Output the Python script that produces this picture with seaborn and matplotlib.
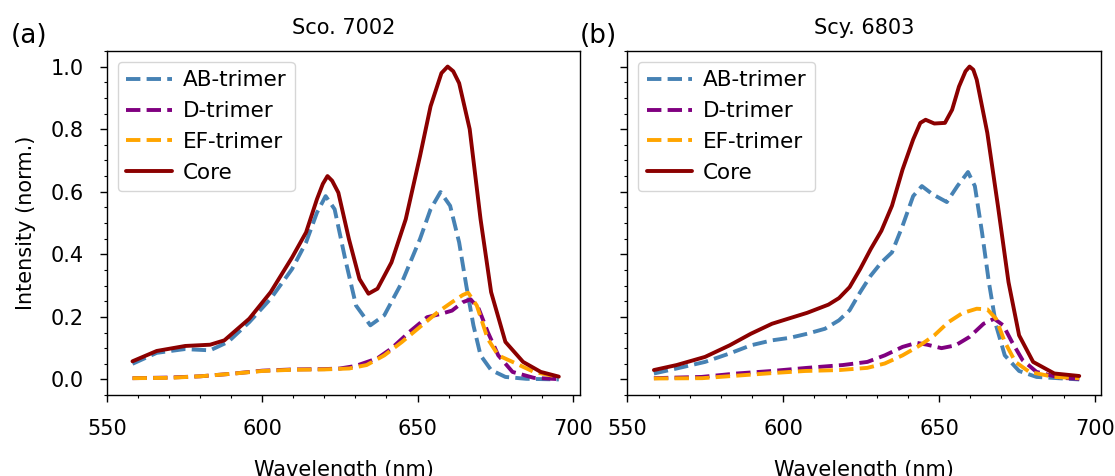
import matplotlib
matplotlib.use("Agg")
import matplotlib.pyplot as plt
import seaborn as sns
from matplotlib.ticker import AutoMinorLocator

# ---- Sco. 7002 (panel a) ----
sco_core_nm = [558.2, 566, 575.2, 583.2, 587.8, 595.8, 602.7, 609.6, 614.1, 617.6, 619.5, 621, 622.5,
               624.5, 627.9, 631.3, 634.2, 637.1, 641.6, 646.2, 650.8, 654.2, 657.7, 659.7, 661.5,
               663.4, 666.8, 670.3, 673.7, 678.3, 684, 689.7, 695.5]
sco_core = [0.058, 0.091, 0.107, 0.111, 0.125, 0.194, 0.279, 0.39, 0.47, 0.576, 0.625, 0.65, 0.635,
            0.597, 0.449, 0.321, 0.274, 0.29, 0.374, 0.512, 0.714, 0.873, 0.979, 1.0, 0.985,
            0.947, 0.8, 0.512, 0.279, 0.12, 0.056, 0.024, 0.009]

sco_ab_nm = [558.2, 566, 575, 583.2, 589, 595.8, 602.7, 609.6, 614.1, 617.6, 620.4, 623.3, 626.7,
             630.2, 634.8, 639.3, 645, 650.8, 654.2, 657.4, 660.5, 663.4, 665.7, 668, 670.3,
             673.7, 678.3, 685, 695.5]
sco_ab = [0.05, 0.085, 0.097, 0.093, 0.12, 0.183, 0.258, 0.353, 0.438, 0.533, 0.586, 0.544, 0.385,
          0.236, 0.173, 0.205, 0.311, 0.449, 0.544, 0.599, 0.555, 0.438, 0.3, 0.173, 0.077,
          0.03, 0.008, 0.002, 0.0]

sco_d_nm = [558.2, 570, 580, 590, 600, 610, 620, 625, 630, 637, 641.6, 647.4, 653.1, 657.7, 661.1,
            664.6, 667.1, 669.7, 672.6, 676, 680.6, 687.5, 695.5]
sco_d = [0.004, 0.006, 0.01, 0.018, 0.028, 0.032, 0.033, 0.035, 0.043, 0.067, 0.099, 0.152, 0.199,
         0.21, 0.22, 0.247, 0.256, 0.226, 0.152, 0.077, 0.024, 0.005, 0.001]

sco_ef_nm = [558.2, 570, 580, 590, 600, 610, 620, 628, 633.6, 639.3, 645, 650.8, 656.5, 661.1, 664.6,
             666.3, 669.1, 672.6, 676, 681.7, 687.5, 695.5]
sco_ef = [0.004, 0.005, 0.01, 0.018, 0.027, 0.031, 0.032, 0.035, 0.046, 0.077, 0.12, 0.168, 0.215,
          0.247, 0.27, 0.277, 0.236, 0.13, 0.077, 0.051, 0.024, 0.008]

# ---- Scy. 6803 (panel b) ----
scy_core_nm = [558.5, 565.8, 574.9, 582.8, 589.6, 596.4, 600.9, 607.7, 614.5, 617.9, 621.3, 624.7,
               628.1, 631.5, 634.9, 638.3, 641.7, 644, 645.7, 648.5, 651.9, 654.2, 656.4, 658.5,
               659.8, 661, 662.1, 665.5, 668.9, 672.3, 675.7, 680.2, 687, 695]
scy_core = [0.03, 0.046, 0.072, 0.109, 0.146, 0.178, 0.192, 0.213, 0.239, 0.26, 0.295, 0.353,
            0.417, 0.475, 0.555, 0.671, 0.767, 0.82, 0.83, 0.818, 0.82, 0.862, 0.936, 0.985,
            1.0, 0.99, 0.958, 0.788, 0.555, 0.311, 0.141, 0.056, 0.019, 0.011]

scy_ab_nm = [558.5, 565.8, 574.9, 582.8, 589.6, 596.4, 602.1, 607.7, 613.4, 617.9, 621.3, 624.7,
             628.1, 631.5, 634.9, 638.3, 641.7, 644.5, 647.9, 652.5, 655.9, 659.3, 661.5, 663.8,
             666, 668.3, 671.1, 675.7, 681.3, 695]
scy_ab = [0.019, 0.035, 0.056, 0.083, 0.109, 0.125, 0.133, 0.146, 0.162, 0.189, 0.221, 0.279,
          0.332, 0.374, 0.406, 0.491, 0.586, 0.618, 0.592, 0.567, 0.618, 0.663, 0.618, 0.47,
          0.311, 0.173, 0.077, 0.027, 0.008, 0.0]

scy_d_nm = [558.5, 573.8, 585.1, 596.4, 607.7, 619.1, 627, 632.6, 638.3, 642.8, 646.2, 650.8, 655.3,
            659.8, 664.3, 667.7, 670.6, 673.4, 676.8, 681.3, 689.2, 695]
scy_d = [0.004, 0.008, 0.019, 0.027, 0.037, 0.046, 0.056, 0.077, 0.104, 0.117, 0.111, 0.1, 0.109,
         0.136, 0.178, 0.194, 0.173, 0.12, 0.062, 0.024, 0.005, 0.002]

scy_ef_nm = [558.5, 574, 585, 596, 607, 618, 627, 632.6, 638.3, 643.9, 648.5, 653, 657.5, 662.1,
             665.5, 668.3, 671.1, 674.5, 679, 687, 695]
scy_ef = [0.003, 0.004, 0.012, 0.02, 0.027, 0.03, 0.037, 0.051, 0.077, 0.109, 0.141, 0.183, 0.212,
          0.226, 0.224, 0.194, 0.12, 0.056, 0.024, 0.008, 0.004]

titles = ["Sco. 7002", "Scy. 6803"]
panel_tags = ["(a)", "(b)"]

sns.set_style("ticks")
plt.rcParams["font.family"] = ["DejaVu Sans"]
plt.rcParams["font.size"] = 15
for key in ["text.color", "axes.labelcolor", "xtick.color", "ytick.color", "axes.edgecolor"]:
    plt.rcParams[key] = "black"

fig, axes = plt.subplots(1, 2, figsize=(11.15, 4.76), dpi=100, sharey=True)
fig.subplots_adjust(left=0.096, right=0.987, top=0.893, bottom=0.17, wspace=0.1)

panels = [
    (sco_ab_nm, sco_ab, sco_d_nm, sco_d, sco_ef_nm, sco_ef, sco_core_nm, sco_core),
    (scy_ab_nm, scy_ab, scy_d_nm, scy_d, scy_ef_nm, scy_ef, scy_core_nm, scy_core),
]

for i, ax in enumerate(axes):
    ab_x, ab_y, d_x, d_y, ef_x, ef_y, c_x, c_y = panels[i]
    sns.lineplot(x=ab_x, y=ab_y, ax=ax, color="steelblue", linestyle="--", lw=2.8, label="AB-trimer", sort=False)
    sns.lineplot(x=d_x, y=d_y, ax=ax, color="purple", linestyle="--", lw=2.8, label="D-trimer", sort=False)
    sns.lineplot(x=ef_x, y=ef_y, ax=ax, color="orange", linestyle="--", lw=2.8, label="EF-trimer", sort=False)
    sns.lineplot(x=c_x, y=c_y, ax=ax, color="darkred", lw=2.8, label="Core", sort=False)
    ax.set_xlim(left=550)
    ax.set_xticks([550, 600, 650, 700])
    ax.xaxis.set_minor_locator(AutoMinorLocator(5))
    ax.yaxis.set_minor_locator(AutoMinorLocator(4))
    ax.tick_params(which="major", length=5, width=1.0, pad=12, labelsize=15)
    ax.tick_params(which="minor", length=2.5, width=0.8)
    ax.set_xlabel("Wavelength (nm)", fontsize=15, labelpad=15)
    ax.set_title(titles[i], fontsize=15, pad=12)
    ax.legend(loc="upper left", fontsize=15.5, handlelength=2.1, handletextpad=0.5)
    for s in ax.spines.values():
        s.set_linewidth(1.0)

axes[0].set_ylabel("Intensity (norm.)", fontsize=15, labelpad=10)
axes[0].set_yticks([0.0, 0.2, 0.4, 0.6, 0.8, 1.0])
fig.text(0.01, 0.91, panel_tags[0], fontsize=19)
fig.text(0.52, 0.91, panel_tags[1], fontsize=19)

fig.savefig("out.png", dpi=100)
